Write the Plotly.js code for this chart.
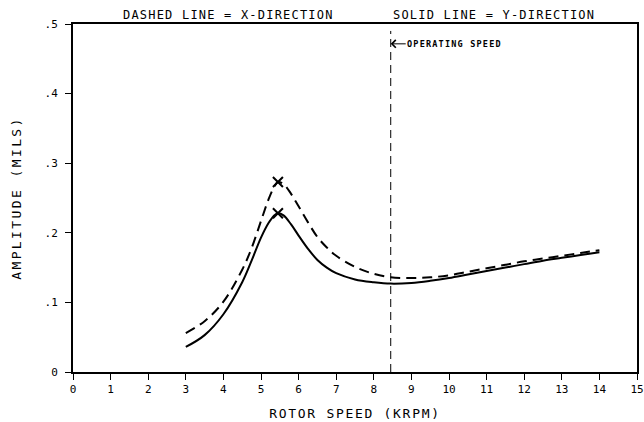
<!DOCTYPE html>
<html>
<head>
<meta charset="utf-8">
<script src="https://cdn.plot.ly/plotly-3.0.1.min.js"></script>
<style>
  html, body { margin: 0; padding: 0; background: #fff; }
  #chart { width: 644px; height: 422px; }
  .annotation-text { letter-spacing: 1.2px; }
  .xtitle { letter-spacing: 1.7px; }
  .ytitle { letter-spacing: 2.4px; }
</style>
</head>
<body>
<div id="chart"></div>
<script>
// Rotor speed (KRPM)
const speed = [3.0, 3.5, 4.0, 4.5, 4.75, 5.0, 5.2, 5.35, 5.45, 5.6, 5.8, 6.0, 6.25, 6.5, 6.75, 7.0, 7.5, 8.0, 8.45, 9.0, 9.5, 10.0, 10.5, 11.0, 11.5, 12.0, 12.5, 13.0, 13.5, 14.0];
// Amplitude (MILS), dashed = X-direction
const ampX = [0.056, 0.073, 0.101, 0.147, 0.178, 0.217, 0.248, 0.266, 0.273, 0.270, 0.256, 0.238, 0.215, 0.194, 0.179, 0.167, 0.151, 0.141, 0.136, 0.135, 0.136, 0.139, 0.144, 0.149, 0.154, 0.159, 0.163, 0.167, 0.171, 0.175];
// Amplitude (MILS), solid = Y-direction
const ampY = [0.036, 0.053, 0.083, 0.129, 0.160, 0.193, 0.214, 0.225, 0.228, 0.225, 0.212, 0.196, 0.177, 0.161, 0.150, 0.142, 0.133, 0.129, 0.127, 0.128, 0.131, 0.135, 0.140, 0.145, 0.150, 0.155, 0.160, 0.164, 0.168, 0.172];
// Peak markers
const peakSpeed = [5.45, 5.45];
const peakAmp = [0.273, 0.228];
// Operating speed line
const operatingSpeed = 8.45;
const operatingLineY = [0, 0.49];
const operatingLabelY = 0.4715;
// Ticks
const xTickVals = [0,1,2,3,4,5,6,7,8,9,10,11,12,13,14,15];
const xTickText = ['0','1','2','3','4','5','6','7','8','9','10','11','12','13','14','15'];
const yTickVals = [0, 0.1, 0.2, 0.3, 0.4, 0.5];
const yTickText = ['0', '.1', '.2', '.3', '.4', '.5'];

const FONT = 'DejaVu Sans Mono, monospace';

const traces = [
  {
    x: speed, y: ampX, type: 'scatter', mode: 'lines', name: 'X-direction',
    line: {color: '#000', width: 2, dash: '10px,6px', shape: 'spline', smoothing: 1}
  },
  {
    x: speed, y: ampY, type: 'scatter', mode: 'lines', name: 'Y-direction',
    line: {color: '#000', width: 2, shape: 'spline', smoothing: 1}
  },
  {
    x: peakSpeed, y: peakAmp, type: 'scatter', mode: 'markers', name: 'peaks',
    marker: {symbol: 'x-thin', size: 10, color: '#000', line: {color: '#000', width: 2}}
  },
  {
    x: [operatingSpeed, operatingSpeed], y: operatingLineY, type: 'scatter', mode: 'lines',
    name: 'operating speed', line: {color: '#000', width: 1, dash: '8px,5px'}
  }
];

const layout = {
  width: 644, height: 422,
  margin: {l: 73, r: 7, t: 24, b: 50},
  paper_bgcolor: '#fff', plot_bgcolor: '#fff',
  showlegend: false,
  font: {family: FONT, color: '#000', size: 11},
  xaxis: {
    range: [0, 15], tickvals: xTickVals, ticktext: xTickText,
    ticks: 'outside', ticklen: 6, tickwidth: 1, tickcolor: '#000',
    showline: true, linewidth: 2, linecolor: '#000', mirror: true,
    showgrid: false, zeroline: false,
    tickfont: {family: FONT, size: 11, color: '#000'},
    title: {text: 'ROTOR SPEED (KRPM)', font: {family: FONT, size: 13, color: '#000'}, standoff: 14}
  },
  yaxis: {
    range: [0, 0.5], tickvals: yTickVals, ticktext: yTickText,
    ticks: 'outside', ticklen: 6, tickwidth: 1, tickcolor: '#000',
    ticklabelstandoff: 5,
    showline: true, linewidth: 2, linecolor: '#000', mirror: true,
    showgrid: false, zeroline: false,
    tickfont: {family: FONT, size: 11, color: '#000'},
    title: {text: 'AMPLITUDE (MILS)', font: {family: FONT, size: 13, color: '#000'}, standoff: 20}
  },
  annotations: [
    {
      xref: 'paper', yref: 'paper', x: 0.275, y: 1.027, xanchor: 'center', yanchor: 'middle',
      text: 'DASHED LINE = X-DIRECTION', showarrow: false,
      font: {family: FONT, size: 12, color: '#000'}
    },
    {
      xref: 'paper', yref: 'paper', x: 0.746, y: 1.027, xanchor: 'center', yanchor: 'middle',
      text: 'SOLID LINE = Y-DIRECTION', showarrow: false,
      font: {family: FONT, size: 12, color: '#000'}
    },
    {
      xref: 'x', yref: 'y', x: operatingSpeed, y: operatingLabelY,
      text: '<b>OPERATING SPEED</b>', showarrow: true, ax: 64, ay: 0,
      arrowhead: 4, arrowsize: 1.5, arrowwidth: 1, arrowcolor: '#000',
      font: {family: FONT, size: 8.5, color: '#000'}
    }
  ]
};

Plotly.newPlot('chart', traces, layout, {displayModeBar: false, staticPlot: true});
</script>
</body>
</html>
